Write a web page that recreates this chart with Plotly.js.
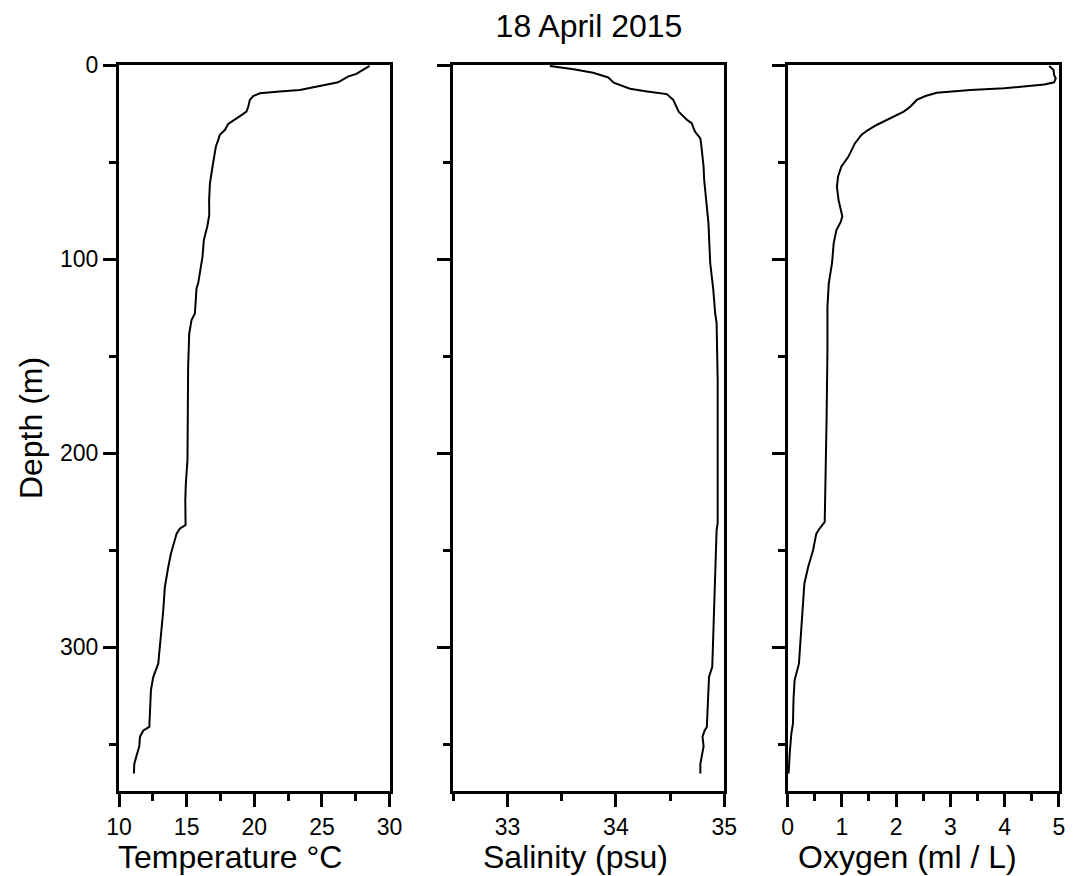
<!DOCTYPE html>
<html>
<head>
<meta charset="utf-8">
<script src="https://cdn.plot.ly/plotly-3.0.1.min.js"></script>
<style>html,body{margin:0;padding:0;background:#fff;}#chart{width:1084px;height:876px;}</style>
</head>
<body>
<div id="chart"></div>
<script>
// Temperature profile (depth m, °C)
const tempDepth = [0.5,2.6,4.6,6,8.9,9.8,11.2,12.9,13.7,14.6,16,18,21.5,24,25.8,28.7,30.4,33.5,36,38.7,42,52.4,61,69.6,77.3,83.3,90.2,98.8,106.5,112.5,115,128,131.4,138.3,155.5,181,203.6,215.6,224,237,238.8,241.4,246.6,251.7,258.6,268.9,281,289.5,301.5,308.4,315.3,322,341,342.8,346,351,355.7,360,365];
const tempValues = [28.52,28.03,27.54,26.92,26.19,25.57,24.59,23.36,21.88,20.41,19.92,19.67,19.55,19.42,19.05,18.44,18.07,17.82,17.45,17.33,17.16,16.91,16.72,16.66,16.67,16.52,16.27,16.17,15.98,15.85,15.73,15.61,15.36,15.19,15.11,15.11,15.06,14.94,14.90,14.92,14.5,14.26,14.06,13.84,13.64,13.39,13.27,13.15,13.03,12.9,12.53,12.36,12.24,11.8,11.55,11.5,11.3,11.13,11.1];

// Salinity profile (depth m, psu)
const salDepth = [0.5,2.2,4,5.3,6.4,9.1,10.5,12.2,13.7,15,18,24,28.4,30,34.3,37.8,42,52.4,59,69.6,76.5,81.6,102,116,128,133,162,214,236,239.7,258.6,275.8,299.8,310,315.3,327,341,342.8,346,351,356.5,360,365];
const salValues = [33.39,33.61,33.79,33.86,33.93,33.98,34.04,34.13,34.29,34.47,34.53,34.58,34.66,34.70,34.73,34.78,34.79,34.81,34.815,34.835,34.846,34.855,34.871,34.90,34.917,34.93,34.94,34.94,34.94,34.93,34.92,34.91,34.90,34.89,34.86,34.85,34.84,34.82,34.80,34.81,34.79,34.78,34.78];

// Oxygen profile (depth m, ml/L)
const oxyDepth = [0.5,2.6,5.2,6.9,8.9,10,12,12.9,14.3,16,18,21.5,24,25.8,28.4,30.9,33.9,36,40.4,47.3,52.4,57.6,62.7,69.6,78,80.8,85,91.9,102,112.5,124.6,147,181,207,224,235.4,238.8,241.4,250,258.6,267.2,281,293,308.4,317,327,339.3,344.5,354.8,365];
const oxyValues = [4.82,4.90,4.91,4.94,4.91,4.73,3.99,3.37,2.75,2.54,2.38,2.26,2.14,2.01,1.80,1.64,1.46,1.36,1.24,1.12,0.99,0.93,0.91,0.94,1.01,0.98,0.90,0.85,0.82,0.76,0.735,0.735,0.72,0.70,0.685,0.685,0.59,0.53,0.47,0.38,0.31,0.28,0.25,0.21,0.13,0.11,0.10,0.07,0.04,0.02];

const titleText = '18 April 2015';
const xTitles = ['Temperature °C', 'Salinity (psu)', 'Oxygen (ml / L)'];
const yTitle = 'Depth (m)';

const FONT = 'Liberation Sans, Arial, Helvetica, sans-serif';
const lineStyle = {color: '#000', width: 2};

const traces = [
  {x: tempValues, y: tempDepth, xaxis: 'x', yaxis: 'y', mode: 'lines', line: lineStyle, hoverinfo: 'skip'},
  {x: salValues, y: salDepth, xaxis: 'x2', yaxis: 'y2', mode: 'lines', line: lineStyle, hoverinfo: 'skip'},
  {x: oxyValues, y: oxyDepth, xaxis: 'x3', yaxis: 'y3', mode: 'lines', line: lineStyle, hoverinfo: 'skip'}
];

function xAxis(domain, range, dtick, minorDtick, anchor) {
  return {
    domain: domain, range: range, anchor: anchor,
    tickmode: 'linear', tick0: 0, dtick: dtick,
    showline: true, linewidth: 3, linecolor: '#000', mirror: true,
    ticks: 'outside', ticklen: 13, tickwidth: 3, tickcolor: '#000',
    minor: {ticks: 'outside', ticklen: 7, tickwidth: 3, tickcolor: '#000', dtick: minorDtick, tick0: 0, showgrid: false},
    showgrid: false, zeroline: false,
    tickfont: {family: FONT, size: 23, color: '#000'}
  };
}
function yAxis(anchor, labels, title) {
  return {
    anchor: anchor, domain: [0, 1], range: [374, 0],
    tickmode: 'linear', tick0: 0, dtick: 100,
    showline: true, linewidth: 3, linecolor: '#000', mirror: true,
    ticks: 'outside', ticklen: 13, tickwidth: 3, tickcolor: '#000',
    minor: {ticks: 'outside', ticklen: 7, tickwidth: 3, tickcolor: '#000', dtick: 50, tick0: 0, showgrid: false},
    showgrid: false, zeroline: false, showticklabels: labels,
    tickfont: {family: FONT, size: 23, color: '#000'},
    title: title ? {text: title, font: {family: FONT, size: 32, color: '#000'}, standoff: 8} : {text: ''}
  };
}

const titleX = [0.1181, 0.4857, 0.8386];
const annotations = xTitles.map((t, i) => ({
  text: t, xref: 'paper', yref: 'paper', x: titleX[i], y: -0.0909,
  xanchor: 'center', yanchor: 'middle', showarrow: false,
  font: {family: FONT, size: 32, color: '#000'}
}));

const layout = {
  width: 1084, height: 876,
  margin: {l: 119, r: 25, t: 65, b: 85},
  paper_bgcolor: '#fff', plot_bgcolor: '#fff',
  showlegend: false,
  font: {family: FONT, color: '#000'},
  title: {text: titleText, font: {family: FONT, size: 32, color: '#000'}, x: 0.5, xref: 'paper', y: 1 - 26/876, yref: 'container', yanchor: 'middle'},
  xaxis: xAxis([0, 0.2879], [10, 30], 5, 2.5, 'y'),
  xaxis2: xAxis([0.3558, 0.6438], [32.5, 35], 1, 0.5, 'y2'),
  xaxis3: xAxis([0.7112, 1], [0, 5], 1, 0.5, 'y3'),
  yaxis: yAxis('x', true, yTitle),
  yaxis2: yAxis('x2', false, null),
  yaxis3: yAxis('x3', false, null),
  annotations: annotations
};

Plotly.newPlot('chart', traces, layout, {displayModeBar: false, staticPlot: true});
</script>
</body>
</html>
